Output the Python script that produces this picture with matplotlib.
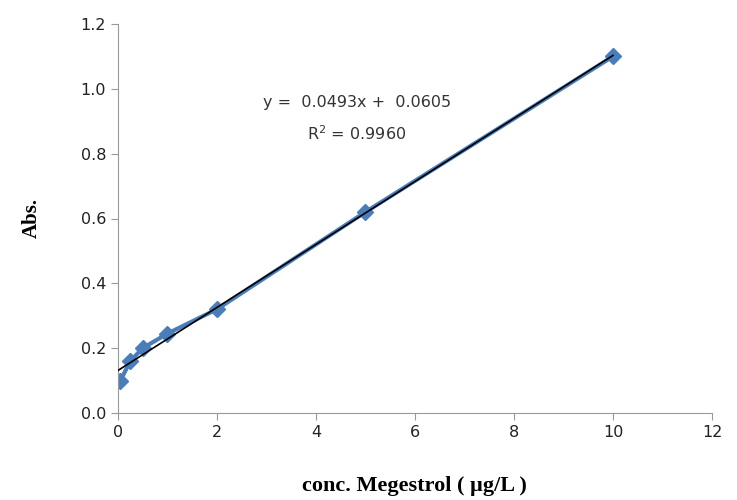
import numpy as np
import matplotlib
matplotlib.use("Agg")
import matplotlib.pyplot as plt

conc = [0.05, 0.25, 0.5, 1, 2, 5, 10]
absorb = [0.10, 0.16, 0.20, 0.245, 0.32, 0.62, 1.10]
eq_text = "y =  0.0493x +  0.0605\nR$^2$ = 0.9960"

fig = plt.figure(figsize=(7.37, 5), dpi=100)
ax = fig.add_axes([0.160, 0.174, 0.806, 0.778])

ax.plot(conc, absorb, color="#4a7ebb", lw=3, marker="D", ms=8, mec="#4a7ebb", zorder=2)
# linear trendline
k, b = np.polyfit(conc, absorb, 1)
xx = np.array([0, 10])
ax.plot(xx, k * xx + b, color="black", lw=1.2, zorder=3)

ax.text(4.83, 0.908, eq_text, ha="center", va="center", fontsize=11.5, color="#333333",
        family="DejaVu Sans", linespacing=1.9)

ax.set_xlim(0, 12)
ax.set_ylim(0, 1.2)
ax.set_xticks(range(0, 13, 2))
ax.set_yticks(np.arange(0, 1.21, 0.2))
ax.set_yticklabels([f"{v:.1f}" for v in np.arange(0, 1.21, 0.2)])
for s in ["top", "right"]:
    ax.spines[s].set_visible(False)
for s in ["left", "bottom"]:
    ax.spines[s].set_color("#999999")
ax.tick_params(color="#999999", labelsize=11.5, length=5, labelcolor="#222222")

ax.set_xlabel("conc. Megestrol ( µg/L )", family="Liberation Serif", fontweight="bold",
              fontsize=16, labelpad=26)
ax.set_ylabel("Abs.", family="Liberation Serif", fontweight="bold", fontsize=15, labelpad=28)

fig.savefig("out.png", dpi=100)
